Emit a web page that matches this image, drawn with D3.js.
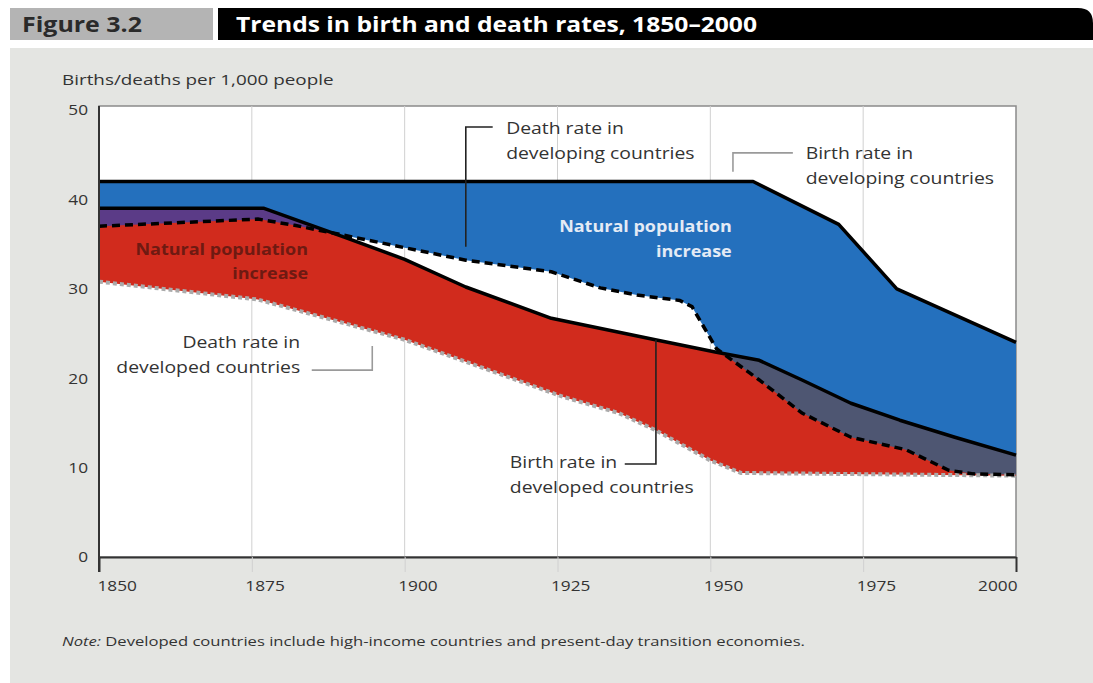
<!DOCTYPE html>
<html><head><meta charset="utf-8">
<script src="https://cdn.jsdelivr.net/npm/d3@7"></script>
<style>
body{margin:0;background:#fff;}
svg{display:block;font-family:'Open Sans','Noto Sans',sans-serif;}
</style>
</head><body>
<svg id="c" width="1093" height="683"></svg>
<script>
// ---------- DATA ----------
const xTicks = [1850, 1875, 1900, 1925, 1950, 1975, 2000];
const yTicks = [0, 10, 20, 30, 40, 50];

// Birth rate in developing countries
const devingBirthYears = [1850, 1957, 1971, 1980.5, 2000];
const devingBirth      = [42,   42,   37.2, 30,     24];

// Death rate in developing countries
const devingDeathYears = [1850, 1876, 1882, 1890, 1900, 1910, 1924, 1932, 1938, 1945, 1947, 1951, 1958, 1965, 1973, 1982, 1989, 1993, 2000];
const devingDeath      = [37,   37.8, 37.1, 36,   34.6, 33.2, 31.9, 30.1, 29.3, 28.7, 28,   23.3, 19.8, 16.1, 13.4, 12,   9.7,  9.3,  9.2];

// Birth rate in developed countries
const devedBirthYears = [1850, 1877, 1890, 1900, 1910, 1924, 1941, 1951, 1958, 1965, 1973, 1981, 1990, 2000];
const devedBirth      = [39,   39,   35.8, 33.3, 30.2, 26.7, 24.3, 22.9, 22.0, 19.8, 17.2, 15.3, 13.4, 11.4];

// Death rate in developed countries
const devedDeathYears = [1850, 1876, 1900, 1926, 1935, 1941, 1950, 1955, 2000];
const devedDeath      = [30.8, 28.8, 24.3, 17.9, 16.1, 14.2, 10.8, 9.4,  9.1];

const figureLabel = "Figure 3.2";
const titleText = "Trends in birth and death rates, 1850\u20132000";
const yAxisTitle = "Births/deaths per 1,000 people";
const areaLabel = ["Natural population", "increase"];
const noteLead = "Note:";
const noteText = " Developed countries include high-income countries and present-day transition economies.";

// ---------- LAYOUT ----------
const svg = d3.select("#c");
const x = d3.scaleLinear().domain([1850, 2000]).range([99, 1016]);
const y = d3.scaleLinear().domain([0, 50]).range([557, 110]);

const zip = (ys, vs) => ys.map((yr, i) => [yr, vs[i]]);
const line = d3.line().x(d => x(d[0])).y(d => y(d[1]));
const band = (topY, topV, botY, botV) =>
  line(zip(topY, topV).concat(zip(botY, botV).reverse())) + "Z";

// horizontal stretch helper (reference type is set wide)
const stretch = (sel, k) => sel.each(function () {
  const w = this.getComputedTextLength();
  d3.select(this).attr("textLength", w * k).attr("lengthAdjust", "spacingAndGlyphs");
});

// panel background
svg.append("rect").attr("x", 10).attr("y", 48).attr("width", 1083).attr("height", 635).attr("fill", "#e4e5e2");

// header
svg.append("rect").attr("x", 10).attr("y", 8).attr("width", 203).attr("height", 32).attr("fill", "#b4b4b4");
svg.append("text").attr("x", 22).attr("y", 32).text(figureLabel)
  .attr("font-size", 21).attr("font-weight", "bold").attr("fill", "#2a2a2a")
  .attr("textLength", 120).attr("lengthAdjust", "spacingAndGlyphs");
svg.append("path").attr("d", "M218,8 H1078 Q1093,8 1093,23 V40 H218 Z").attr("fill", "#000");
svg.append("text").attr("x", 236).attr("y", 32).text(titleText)
  .attr("font-size", 22).attr("font-weight", "bold").attr("fill", "#fff")
  .attr("textLength", 521).attr("lengthAdjust", "spacingAndGlyphs");

// y axis title
stretch(svg.append("text").attr("x", 62).attr("y", 85).text(yAxisTitle)
  .attr("font-size", 14.5).attr("fill", "#333"), 1.3);

// plot background & frame
const plotTop = y(50) - 4;
svg.append("rect").attr("x", x(1850)).attr("y", plotTop).attr("width", x(2000) - x(1850)).attr("height", y(0) - plotTop)
  .attr("fill", "#fff").attr("stroke", "#8a8a8a").attr("stroke-width", 1.5);

// gridlines (vertical)
svg.append("g").selectAll("line").data(xTicks.slice(1, -1)).join("line")
  .attr("x1", d => x(d)).attr("x2", d => x(d)).attr("y1", plotTop).attr("y2", y(0))
  .attr("stroke", "#d0d0d0").attr("stroke-width", 1);

// areas
const blueD = band(devingBirthYears, devingBirth, devingDeathYears, devingDeath);
const redD = band(devedBirthYears, devedBirth, devedDeathYears, devedDeath);

const defs = svg.append("defs");
defs.append("clipPath").attr("id", "devingClip").append("path").attr("d", blueD);
const grad = defs.append("linearGradient").attr("id", "ovGrad")
  .attr("gradientUnits", "userSpaceOnUse")
  .attr("x1", x(1850)).attr("x2", x(2000)).attr("y1", 0).attr("y2", 0);
grad.append("stop").attr("offset", 0).attr("stop-color", "#5b3b87");
grad.append("stop").attr("offset", 0.3).attr("stop-color", "#5b3b87");
grad.append("stop").attr("offset", 0.65).attr("stop-color", "#4e5672");
grad.append("stop").attr("offset", 1).attr("stop-color", "#4e5672");

svg.append("path").attr("d", blueD).attr("fill", "#2470bd");
svg.append("path").attr("d", redD).attr("fill", "#d12b1d");
svg.append("path").attr("d", redD).attr("fill", "url(#ovGrad)").attr("clip-path", "url(#devingClip)");

// lines
svg.append("path").attr("d", line(zip(devedDeathYears, devedDeath))).attr("fill", "none")
  .attr("stroke", "#aaaaaa").attr("stroke-width", 4).attr("stroke-dasharray", "4,3");
svg.append("path").attr("d", line(zip(devedBirthYears, devedBirth))).attr("fill", "none")
  .attr("stroke", "#000").attr("stroke-width", 3.5).attr("stroke-linejoin", "round");
svg.append("path").attr("d", line(zip(devingDeathYears, devingDeath))).attr("fill", "none")
  .attr("stroke", "#000").attr("stroke-width", 3.5).attr("stroke-dasharray", "8,5");
svg.append("path").attr("d", line(zip(devingBirthYears, devingBirth))).attr("fill", "none")
  .attr("stroke", "#000").attr("stroke-width", 3.5).attr("stroke-linejoin", "round");

// axes
const xAxis = svg.append("g").attr("transform", `translate(0,${y(0)})`)
  .call(d3.axisBottom(x).tickValues(xTicks).tickFormat(d3.format("d")).tickSize(15).tickSizeOuter(0).tickPadding(8));
xAxis.select(".domain").attr("stroke", "#333").attr("stroke-width", 2);
xAxis.selectAll(".tick line").attr("stroke", (d, i) => (i === 0 || i === xTicks.length - 1) ? "#333" : "#d0d0d0")
  .attr("stroke-width", (d, i) => (i === 0 || i === xTicks.length - 1) ? 2 : 1);
const xt = xAxis.selectAll(".tick text").attr("font-size", 15).attr("fill", "#333").attr("font-family", "'Open Sans',sans-serif")
  .attr("text-anchor", (d, i) => i === xTicks.length - 1 ? "end" : "start")
  .attr("dx", (d, i) => i === 0 ? -2 : (i === xTicks.length - 1 ? 1 : -7));
stretch(xt, 1.15);

const yAxis = svg.append("g").attr("transform", `translate(${x(1850)},0)`)
  .call(d3.axisLeft(y).tickValues(yTicks).tickSize(0).tickPadding(11));
yAxis.select(".domain").remove();
stretch(yAxis.selectAll(".tick text").attr("font-size", 15).attr("fill", "#333").attr("font-family", "'Open Sans',sans-serif"), 1.15);
svg.append("line").attr("x1", x(1850)).attr("x2", x(1850)).attr("y1", plotTop).attr("y2", y(0) + 15)
  .attr("stroke", "#333").attr("stroke-width", 2);

// area labels
const lbl = (txt, xv, yv, fill) => stretch(svg.append("text").attr("x", x(xv)).attr("y", y(yv))
  .attr("text-anchor", "end").attr("font-size", 15.5).attr("font-weight", "bold").attr("fill", fill).text(txt), 1.16);
lbl(areaLabel[0], 1884.2, 33.8, "#6e1a12");
lbl(areaLabel[1], 1884.2, 31.1, "#6e1a12");
lbl(areaLabel[0], 1953.5, 36.4, "#e4ebf5");
lbl(areaLabel[1], 1953.5, 33.6, "#e4ebf5");

// annotations
const ann = (lines, xv, yv, anchor) => {
  const t = svg.append("text").attr("x", x(xv)).attr("y", y(yv)).attr("text-anchor", anchor)
    .attr("font-size", 16).attr("fill", "#333");
  lines.forEach((l, i) => t.append("tspan").attr("x", x(xv)).attr("dy", i === 0 ? 0 : 25).text(l));
  stretch(t.selectAll("tspan"), 1.21);
};
const leader = (pts, color) => svg.append("path").attr("d", line(pts)).attr("fill", "none")
  .attr("stroke", color).attr("stroke-width", 1.6);

ann(["Death rate in", "developing countries"], 1916.6, 47.3, "start");
leader([[1914.4, 48.1], [1910, 48.1], [1910, 34.7]], "#222");

ann(["Birth rate in", "developing countries"], 1965.6, 44.5, "start");
leader([[1963.5, 45.2], [1953.7, 45.2], [1953.7, 43.1]], "#9a9a9a");

ann(["Death rate in", "developed countries"], 1882.9, 23.4, "end");
leader([[1884.8, 20.9], [1894.7, 20.9], [1894.7, 23.6]], "#9a9a9a");

ann(["Birth rate in", "developed countries"], 1917.2, 9.9, "start");
leader([[1936, 10.4], [1941.1, 10.4], [1941.1, 24.3]], "#222");

// note
const note = svg.append("text").attr("x", 62).attr("y", 646).attr("font-size", 13.5).attr("fill", "#333");
note.append("tspan").attr("font-style", "italic").text(noteLead);
note.append("tspan").text(noteText);
stretch(note.selectAll("tspan"), 1.23);
</script>
</body></html>
